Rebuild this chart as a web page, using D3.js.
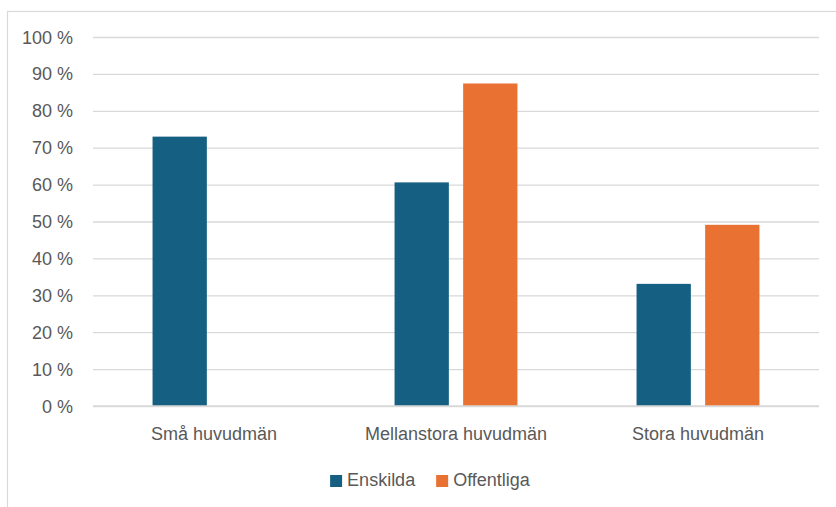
<!DOCTYPE html>
<html>
<head>
<meta charset="utf-8">
<script src="https://cdn.jsdelivr.net/npm/d3@7"></script>
<style>
  html, body { margin: 0; padding: 0; background: #fff; }
  svg { display: block; font-family: "Liberation Sans", Arial, sans-serif; }
</style>
</head>
<body>
<svg id="chart" width="836" height="507"></svg>
<script>
// ---- data ----
const categories = ["Små huvudmän", "Mellanstora huvudmän", "Stora huvudmän"];
const seriesNames = ["Enskilda", "Offentliga"];
const enskilda = [73.0, 60.6, 33.1];
const offentliga = [null, 87.4, 49.1];
const yTicks = [0, 10, 20, 30, 40, 50, 60, 70, 80, 90, 100];
const colors = ["#156082", "#E97132"];

// ---- layout ----
const svg = d3.select("#chart");
const W = 836, H = 507;
const plot = { left: 93, right: 819, top: 37, bottom: 406 };
const textColor = "#595959";
const gridColor = "#d9d9d9";

// chart area border
svg.append("rect")
  .attr("x", 7.5).attr("y", 11.5)
  .attr("width", 860).attr("height", 520)
  .attr("fill", "#fff").attr("stroke", gridColor).attr("stroke-width", 1.2);

const x = d3.scaleBand().domain(categories).range([plot.left, plot.right]).padding(0);
const y = d3.scaleLinear().domain([0, 100]).range([plot.bottom, plot.top]);

const barW = 54.3, barGap = 14.3;
const groupW = barW * seriesNames.length + barGap * (seriesNames.length - 1);
const xs = d3.scaleBand().domain(seriesNames)
  .range([0, groupW]).paddingInner(barGap / (barW + barGap)).paddingOuter(0);

// gridlines
const yAxis = d3.axisLeft(y).tickValues(yTicks)
  .tickSize(-(plot.right - plot.left)).tickPadding(20)
  .tickFormat(d => d + " %");
const gy = svg.append("g").attr("transform", `translate(${plot.left},0)`).call(yAxis);
gy.select(".domain").remove();
gy.selectAll(".tick line").attr("stroke", gridColor).attr("stroke-width", 1.3);
gy.selectAll(".tick text")
  .attr("fill", textColor).attr("font-size", 18)
  .attr("dy", null).attr("dominant-baseline", "central");

// bars
const data = [];
categories.forEach((c, i) => {
  data.push({ cat: c, s: seriesNames[0], v: enskilda[i] });
  data.push({ cat: c, s: seriesNames[1], v: offentliga[i] });
});
const colorScale = d3.scaleOrdinal().domain(seriesNames).range(colors);

svg.append("g").selectAll("rect")
  .data(data.filter(d => d.v != null))
  .join("rect")
  .attr("x", d => x(d.cat) + (x.bandwidth() - groupW) / 2 + xs(d.s))
  .attr("width", xs.bandwidth())
  .attr("y", d => y(d.v))
  .attr("height", d => y(0) - y(d.v))
  .attr("fill", d => colorScale(d.s));

// x axis baseline
svg.append("line")
  .attr("x1", plot.left).attr("x2", plot.right)
  .attr("y1", y(0)).attr("y2", y(0))
  .attr("stroke", gridColor).attr("stroke-width", 1.3);

// category labels
svg.append("g").selectAll("text")
  .data(categories)
  .join("text")
  .attr("x", d => x(d) + x.bandwidth() / 2)
  .attr("y", y(0) + 34)
  .attr("text-anchor", "middle")
  .attr("fill", textColor).attr("font-size", 18)
  .text(d => d);

// legend
const legend = svg.append("g");
const items = legend.selectAll("g").data(seriesNames).join("g");
items.append("rect").attr("width", 12).attr("height", 12).attr("y", -11)
  .attr("fill", d => colorScale(d));
items.append("text").attr("x", 17).attr("y", 0)
  .attr("fill", textColor).attr("font-size", 18).text(d => d);
let widths = [];
items.each(function() { widths.push(17 + d3.select(this).select("text").node().getComputedTextLength()); });
const itemGap = 21;
const total = d3.sum(widths) + itemGap * (widths.length - 1);
let cx = 430 - total / 2;
items.attr("transform", (d, i) => {
  const t = `translate(${cx},486)`;
  cx += widths[i] + itemGap;
  return t;
});
</script>
</body>
</html>
